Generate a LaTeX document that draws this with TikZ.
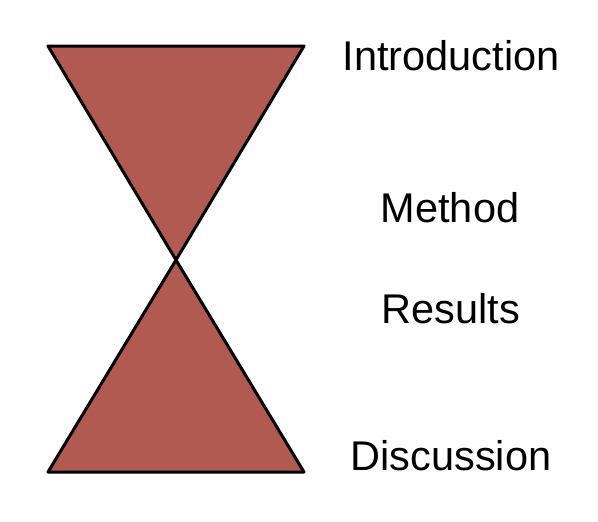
\documentclass[tikz,border=0pt]{standalone}
\usepackage{fontspec}
\setmainfont{Liberation Sans}
\definecolor{tri}{HTML}{B05A52}
\begin{document}
\begin{tikzpicture}[x=1pt,y=-1pt,
  tri/.style={fill=tri,draw=black,line width=3pt,line join=round},
  lbl/.style={anchor=base,inner sep=0pt,font=\fontsize{41.5}{50}\selectfont}]
\useasboundingbox (0,0) rectangle (598,522);
\coordinate (tl) at (48,46);
\coordinate (tr) at (304,46);
\coordinate (c) at (176,260);
\coordinate (bl) at (48,472);
\coordinate (br) at (304,472);
\draw[tri] (tl) -- (tr) -- (c) -- cycle;
\draw[tri] (c) -- (br) -- (bl) -- cycle;
\node[lbl] (intro) at (451,70) {Introduction};
\node[lbl] (meth) at (450,222) {Method};
\node[lbl] (res) at (451,323) {Results};
\node[lbl] (disc) at (451,470) {Discussion};
\end{tikzpicture}
\end{document}
